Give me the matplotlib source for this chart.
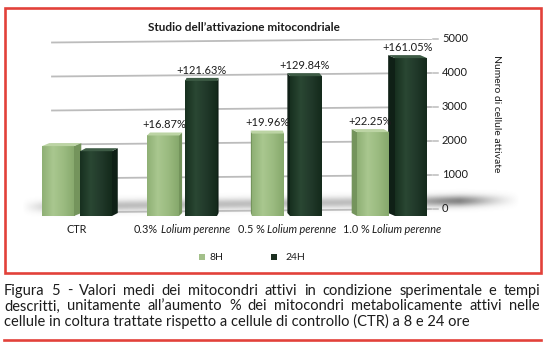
import matplotlib
matplotlib.use('Agg')
import matplotlib.pyplot as plt
import numpy as np
from matplotlib.patches import Polygon, Rectangle
from matplotlib.lines import Line2D
from matplotlib.colors import LinearSegmentedColormap
from matplotlib.transforms import IdentityTransform

plt.rcParams['font.family'] = ['Lato', 'DejaVu Sans']

# ---------------- data ----------------
TITLE = 'Studio dell’attivazione mitocondriale'
Y_LABEL = 'Numero di cellule attivate'
GROUP_PREFIX = ['CTR', '0.3%', '0.5 %', '1.0 %']
GROUP_SPECIES = ['', 'Lolium perenne', 'Lolium perenne', 'Lolium perenne']
SERIES = ['8H', '24H']
VALUES_8H = [1850, 2162, 2219, 2262]
VALUES_24H = [1700, 3768, 3907, 4438]
PCT_8H = ['', '+16.87%', '+19.96%', '+22.25%']
PCT_24H = ['', '+121.63%', '+129.84%', '+161.05%']
Y_TICKS = [0, 1000, 2000, 3000, 4000, 5000]
CAPTION = [
    'Figura 5 - Valori medi dei mitocondri attivi in condizione sperimentale e tempi',
    'descritti, unitamente all’aumento % dei mitocondri metabolicamente attivi nelle',
    'cellule in coltura trattate rispetto a cellule di controllo (CTR) a 8 e 24 ore',
]

# ---------------- styles ----------------
W, H = 552, 348
RED = '#e2413a'
TXT = '#1c1c1c'
GRID = '#bcbcbc'
FACE = {
    '8H': dict(front=['#8fb075', '#a9c78f', '#9bbb80', '#86a86c'], side='#74945c', top='#bcd4a4'),
    '24H': dict(front=['#17301f', '#2a4733', '#21392a', '#142a1b'], side='#0f2016', top='#3d5b45'),
}
LEGEND_COL = {'8H': '#a3c08a', '24H': '#1b2f20'}
TICK_FS = 8
VAL_FS = 8
CAT_FS = 7.8
TITLE_FS = 8.5
YLAB_FS = 7.5
LEG_FS = 7.5

fig = plt.figure(figsize=(W / 100, H / 100), dpi=100)
ID = IdentityTransform()
renderer = fig.canvas.get_renderer()


def px(x, y):
    """top-left pixel coordinates -> display coordinates"""
    return x, H - y


def text_width(s, **kw):
    t = fig.text(0, 0, s, transform=ID, **kw)
    w = t.get_window_extent(renderer).width
    t.remove()
    return w


CAP_FS = 10 * 464 / text_width(CAPTION[2], fontsize=10)

# plotting area (pixel frame: x 20..440, y 39..225)
X0, DXG = 77.0, 105.0          # first group centre, group pitch (px)
Y_ZERO, PPU = 209.0, 0.034     # pixel row of value 0, pixels per unit
ax_l, ax_r, ax_t, ax_b = 20, 440, 39, 225
ax = fig.add_axes([ax_l / W, (H - ax_b) / H, (ax_r - ax_l) / W, (ax_b - ax_t) / H])
ax.axis('off')
xlim = ((ax_l - X0) / DXG, (ax_r - X0) / DXG)
ylim = (-(ax_b - Y_ZERO) / PPU, (Y_ZERO - ax_t) / PPU)


def dxp(p):   # pixel length -> data x length
    return p / DXG


def dyp(p):   # pixel length -> data y length
    return p / PPU


# soft floor shadow
xs = np.linspace(22, 520, 400)
ys = np.linspace(186, 220, 70)
XX, YY = np.meshgrid(xs, ys)
yc = 207 - (XX - 22) / 498 * 7
amp = 0.38 * np.clip((XX - 22) / 35, 0, 1) * np.clip((520 - XX) / 60, 0, 1)
amp = amp * (1 + 0.9 * np.exp(-((XX - 465) / 40) ** 2))
alpha = amp * np.exp(-((YY - yc) / 5.5) ** 2)
rgba = np.zeros(alpha.shape + (4,))
rgba[..., :3] = 0.33
rgba[..., 3] = np.clip(alpha, 0, 1)
ax.imshow(rgba, extent=((22 - X0) / DXG, (520 - X0) / DXG,
                        (Y_ZERO - 220) / PPU, (Y_ZERO - 186) / PPU),
          origin='upper', aspect='auto', zorder=0.5, interpolation='bilinear',
          clip_on=False)

# grid lines (slightly tilted)
gx0, gx1 = (52 - X0) / DXG, (431 - X0) / DXG
for v in Y_TICKS:
    ax.add_line(Line2D([gx0, gx1], [v - dyp(3.5), v], color=GRID, lw=1.3, zorder=0.8))
    ax.add_line(Line2D([(433 - X0) / DXG, (438 - X0) / DXG], [v, v], color=GRID,
                       lw=1.1, zorder=0.8, clip_on=False))
    ax.text((442 - X0) / DXG, v, f'{v}', ha='left', va='center', fontsize=TICK_FS,
            color=TXT, clip_on=False)

BASE = -dyp(7)


def draw_bar(xc, w, val, key, z):
    x0, x1 = xc - w / 2, xc + w / 2
    cen_px = X0 + xc * DXG
    dx = dxp(-(cen_px - 240) * 0.04)
    dy = dyp(3)
    st = FACE[key]
    cmap = LinearSegmentedColormap.from_list('f' + key, st['front'])
    ax.imshow(np.linspace(0, 1, 64)[None, :], extent=(x0, x1, BASE, val), cmap=cmap,
              aspect='auto', zorder=z, interpolation='bilinear')
    if dx > 0:
        side = [(x1, BASE), (x1, val), (x1 + dx, val + dy), (x1 + dx, BASE + dy)]
    else:
        side = [(x0, BASE), (x0, val), (x0 + dx, val + dy), (x0 + dx, BASE + dy)]
    ax.add_patch(Polygon(side, closed=True, facecolor=st['side'], edgecolor='none', zorder=z))
    top = [(x0, val), (x1, val), (x1 + dx, val + dy), (x0 + dx, val + dy)]
    ax.add_patch(Polygon(top, closed=True, facecolor=st['top'], edgecolor='none', zorder=z))
    return (x0 + x1) / 2 + dx / 2, val + dy


bw = dxp(32)
gap = dxp(3)
for i, (v8, v24) in enumerate(zip(VALUES_8H, VALUES_24H)):
    left_side = (X0 + i * DXG) > 240
    z8, z24 = (3, 2) if left_side else (2, 3)
    c8 = i - gap - bw / 2
    c24 = i + gap + bw / 2
    tx8, ty8 = draw_bar(c8, bw, v8, '8H', z8)
    tx24, ty24 = draw_bar(c24, bw, v24, '24H', z24)
    if PCT_8H[i]:
        ax.annotate(PCT_8H[i], (tx8, ty8), xytext=(0, 1.5), textcoords='offset points',
                    ha='center', va='bottom', fontsize=VAL_FS, color=TXT, zorder=5)
    if PCT_24H[i]:
        ax.annotate(PCT_24H[i], (tx24, ty24), xytext=(0, 1.5), textcoords='offset points',
                    ha='center', va='bottom', fontsize=VAL_FS, color=TXT, zorder=5)

ax.set_xlim(*xlim)
ax.set_ylim(*ylim)

# category labels (upright prefix + italic species name)
space_w = text_width('a a', fontsize=CAT_FS) - text_width('aa', fontsize=CAT_FS)
for i, (pre, sp) in enumerate(zip(GROUP_PREFIX, GROUP_SPECIES)):
    cx = X0 + i * DXG
    w1 = text_width(pre, fontsize=CAT_FS)
    w2 = text_width(sp, fontsize=CAT_FS, style='italic') if sp else 0
    total = w1 + (space_w + w2 if sp else 0)
    start = cx - total / 2
    fig.text(*px(start, 233), pre, transform=ID, fontsize=CAT_FS, color=TXT,
             ha='left', va='baseline')
    if sp:
        fig.text(*px(start + w1 + space_w, 233), sp, transform=ID, fontsize=CAT_FS,
                 style='italic', color=TXT, ha='left', va='baseline')

# title and axis label
fig.text(*px(243.5, 31), TITLE, transform=ID, fontsize=TITLE_FS, fontweight='bold',
         color=TXT, ha='center', va='baseline')
fig.text(*px(496, 114), Y_LABEL, transform=ID, fontsize=YLAB_FS, rotation=-90,
         color=TXT, ha='center', va='center')

# legend
for key, sq_x, tx in zip(SERIES, [199, 271], [210, 285]):
    fig.patches.append(Rectangle(px(sq_x, 260), 6, 6, transform=ID,
                                 facecolor=LEGEND_COL[key], edgecolor='none'))
    fig.text(*px(tx, 260.5), key, transform=ID, fontsize=LEG_FS, color=TXT,
             ha='left', va='baseline')

# red frame and rule
fig.patches.append(Rectangle(px(5, 273), 536, 265.5, transform=ID, fill=False,
                             edgecolor=RED, lw=1.9))
fig.add_artist(Line2D([4 / W, 541 / W], [1 - 340 / H, 1 - 340 / H], color=RED, lw=1.9))

# caption, justified
left, right = 4, 540
baselines = [295, 310.5, 326]
for k, (line, yb) in enumerate(zip(CAPTION, baselines)):
    if k < len(CAPTION) - 1:
        words = line.split(' ')
        widths = [text_width(wd, fontsize=CAP_FS) for wd in words]
        g = (right - left - sum(widths)) / (len(words) - 1)
        x = left
        for wd, wdw in zip(words, widths):
            fig.text(*px(x, yb), wd, transform=ID, fontsize=CAP_FS, color=TXT,
                     ha='left', va='baseline')
            x += wdw + g
    else:
        fig.text(*px(left, yb), line, transform=ID, fontsize=CAP_FS, color=TXT,
                 ha='left', va='baseline')

fig.savefig('out.png', dpi=100, facecolor='white')
